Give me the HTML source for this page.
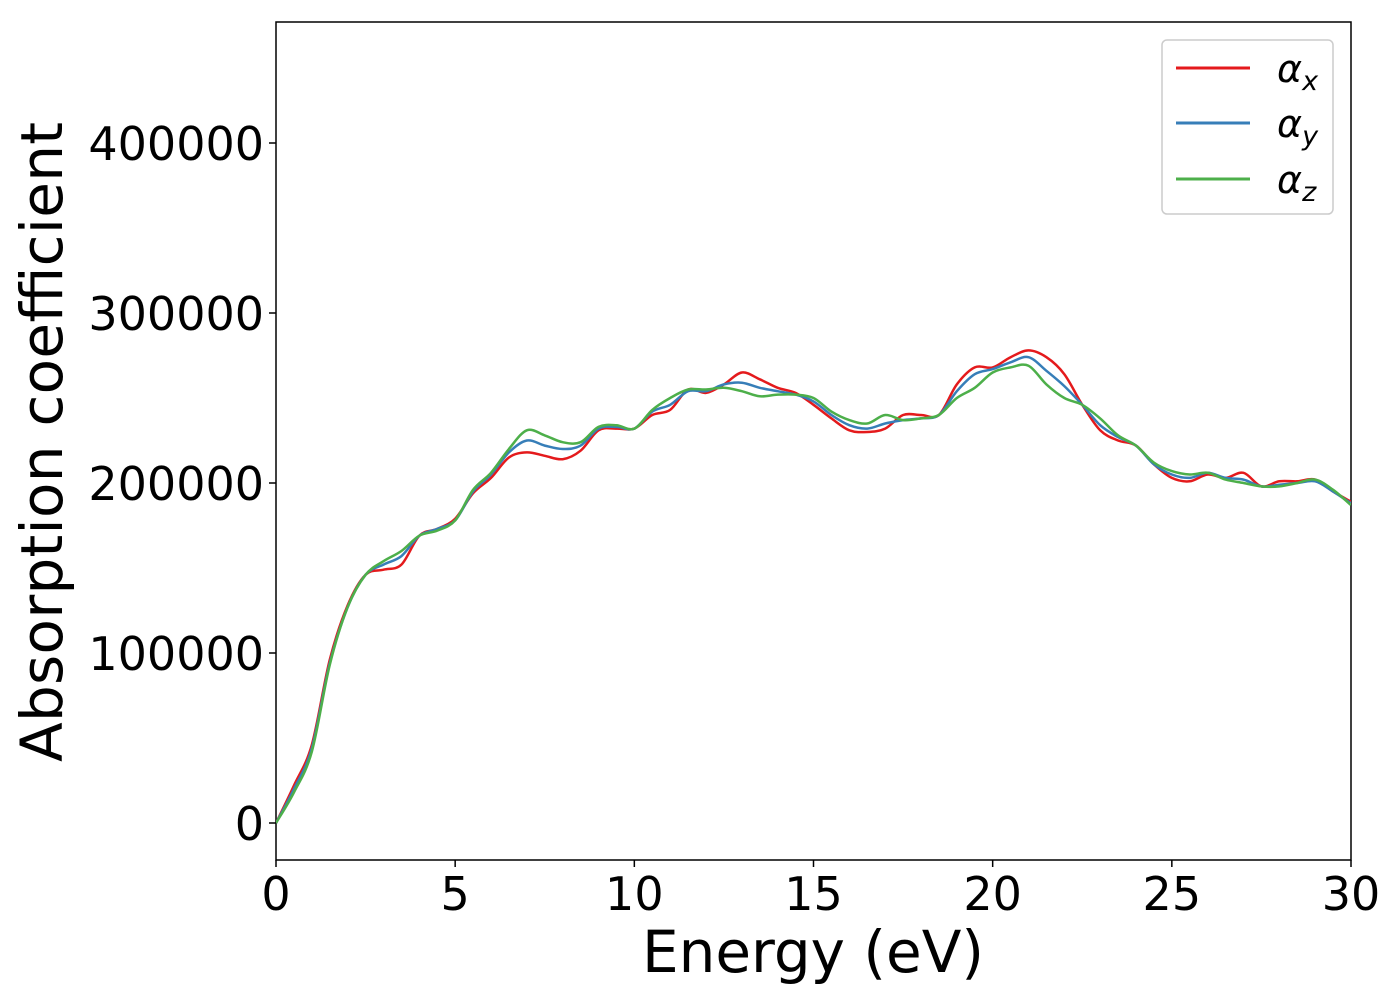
<!DOCTYPE html>
<html><head><meta charset="utf-8"><style>body{margin:0;background:#fff}svg{display:block}</style></head>
<body>
<svg id="chart" width="1400" height="1000" xmlns="http://www.w3.org/2000/svg" font-family="DejaVu Sans, Liberation Sans, sans-serif">
<rect x="276" y="22" width="1075" height="838" fill="#fff" stroke="#000" stroke-width="1.5"/>
<g id="series" clip-path="url(#clip)"></g>
<clipPath id="clip"><rect x="276" y="22" width="1075" height="838"/></clipPath>
<g id="axes"></g>
<text x="813" y="972" font-size="58" text-anchor="middle">Energy (eV)</text>
<text transform="translate(62,442) rotate(-90)" font-size="58" text-anchor="middle" textLength="640">Absorption coefficient</text>
<g>
<rect x="1162" y="40" width="171" height="174" rx="5" fill="#fff" stroke="#ccc" stroke-width="1.5"/>
<g><line x1="1176" y1="68" x2="1250" y2="68" stroke="#e41a1c" stroke-width="3"/><text x="1277" y="82" font-size="38" font-style="italic">α<tspan font-size="27" dy="8">x</tspan></text></g>
<g><line x1="1176" y1="123" x2="1250" y2="123" stroke="#377eb8" stroke-width="3"/><text x="1277" y="137" font-size="38" font-style="italic">α<tspan font-size="27" dy="8">y</tspan></text></g>
<g><line x1="1176" y1="179" x2="1250" y2="179" stroke="#4daf4a" stroke-width="3"/><text x="1277" y="193" font-size="38" font-style="italic">α<tspan font-size="27" dy="8">z</tspan></text></g>
</g>
</svg>
<script>
const energies = [0,0.5,1,1.5,2,2.5,3,3.5,4,4.5,5,5.5,6,6.5,7,7.5,8,8.5,9,9.5,10,10.5,11,11.5,12,12.5,13,13.5,14,14.5,15,15.5,16,16.5,17,17.5,18,18.5,19,19.5,20,20.5,21,21.5,22,22.5,23,23.5,24,24.5,25,25.5,26,26.5,27,27.5,28,28.5,29,29.5,30];
const alphaX = [0,22,46,96,128,146,149,152,169,173,179,194,203,215,218,216,214,219,231,232,232,240,243,255,253,258,265,261,256,253,246,238,231,230,232,240,240,240,258,268,268,274,278,274,264,246,231,225,222,211,203,201,205,203,206,198,201,201,202,195,189];
const alphaY = [0,20,44,94,127,146,152,157,169,173,178,195,205,218,225,222,220,222,232,233,232,242,246,254,254,258,259,256,254,252,248,240,234,232,235,237,238,240,254,264,267,271,274,266,257,246,234,227,222,211,205,203,206,203,202,198,199,200,201,195,188];
const alphaZ = [0,18,42,93,127,146,154,160,169,172,178,196,206,220,231,228,224,224,233,234,232,243,250,255,255,256,254,251,252,252,250,242,237,235,240,237,238,240,250,256,265,268,269,258,250,246,238,228,222,212,207,205,206,202,200,198,198,200,202,196,187];
const xTicks = [0,5,10,15,20,25,30];
const yTicks = [0,100000,200000,300000,400000];
const NS='http://www.w3.org/2000/svg';
const X = e => 276 + e*(1075/30);
const Y = v => 823 - v*170/100000;
function path(vals){
  const p = energies.map((e,i)=>[X(e),Y(vals[i]*1000)]);
  let d = 'M'+p[0][0]+','+p[0][1];
  for(let i=0;i<p.length-1;i++){
    const p0=p[Math.max(0,i-1)],p1=p[i],p2=p[i+1],p3=p[Math.min(p.length-1,i+2)];
    d+=' C'+(p1[0]+(p2[0]-p0[0])/6)+','+(p1[1]+(p2[1]-p0[1])/6)+' '+(p2[0]-(p3[0]-p1[0])/6)+','+(p2[1]-(p3[1]-p1[1])/6)+' '+p2[0]+','+p2[1];
  }
  return d;
}
const g=document.getElementById('series');
[[alphaX,'#e41a1c','line-alpha-x'],[alphaY,'#377eb8','line-alpha-y'],[alphaZ,'#4daf4a','line-alpha-z']].forEach(s=>{
  const el=document.createElementNS(NS,'path');
  el.setAttribute('d',path(s[0]));el.setAttribute('fill','none');el.setAttribute('stroke',s[1]);el.setAttribute('stroke-width','2.5');
  
  
  g.appendChild(el);
});
const ax=document.getElementById('axes');
xTicks.forEach(t=>{
  const l=document.createElementNS(NS,'line');l.setAttribute('x1',X(t));l.setAttribute('x2',X(t));l.setAttribute('y1',860);l.setAttribute('y2',867);l.setAttribute('stroke','#000');l.setAttribute('stroke-width','1.5');
  
  
  ax.appendChild(l);
  const tx=document.createElementNS(NS,'text');tx.setAttribute('x',X(t));tx.setAttribute('y',910);tx.setAttribute('font-size','46');tx.setAttribute('text-anchor','middle');tx.textContent=t;
  
  
  ax.appendChild(tx);
});
yTicks.forEach(t=>{
  const l=document.createElementNS(NS,'line');l.setAttribute('x1',269);l.setAttribute('x2',276);l.setAttribute('y1',Y(t));l.setAttribute('y2',Y(t));l.setAttribute('stroke','#000');l.setAttribute('stroke-width','1.5');
  
  
  ax.appendChild(l);
  const tx=document.createElementNS(NS,'text');tx.setAttribute('x',264);tx.setAttribute('y',Y(t)+17);tx.setAttribute('font-size','46');tx.setAttribute('text-anchor','end');tx.textContent=t;
  
  
  ax.appendChild(tx);
});
</script>
</body></html>
